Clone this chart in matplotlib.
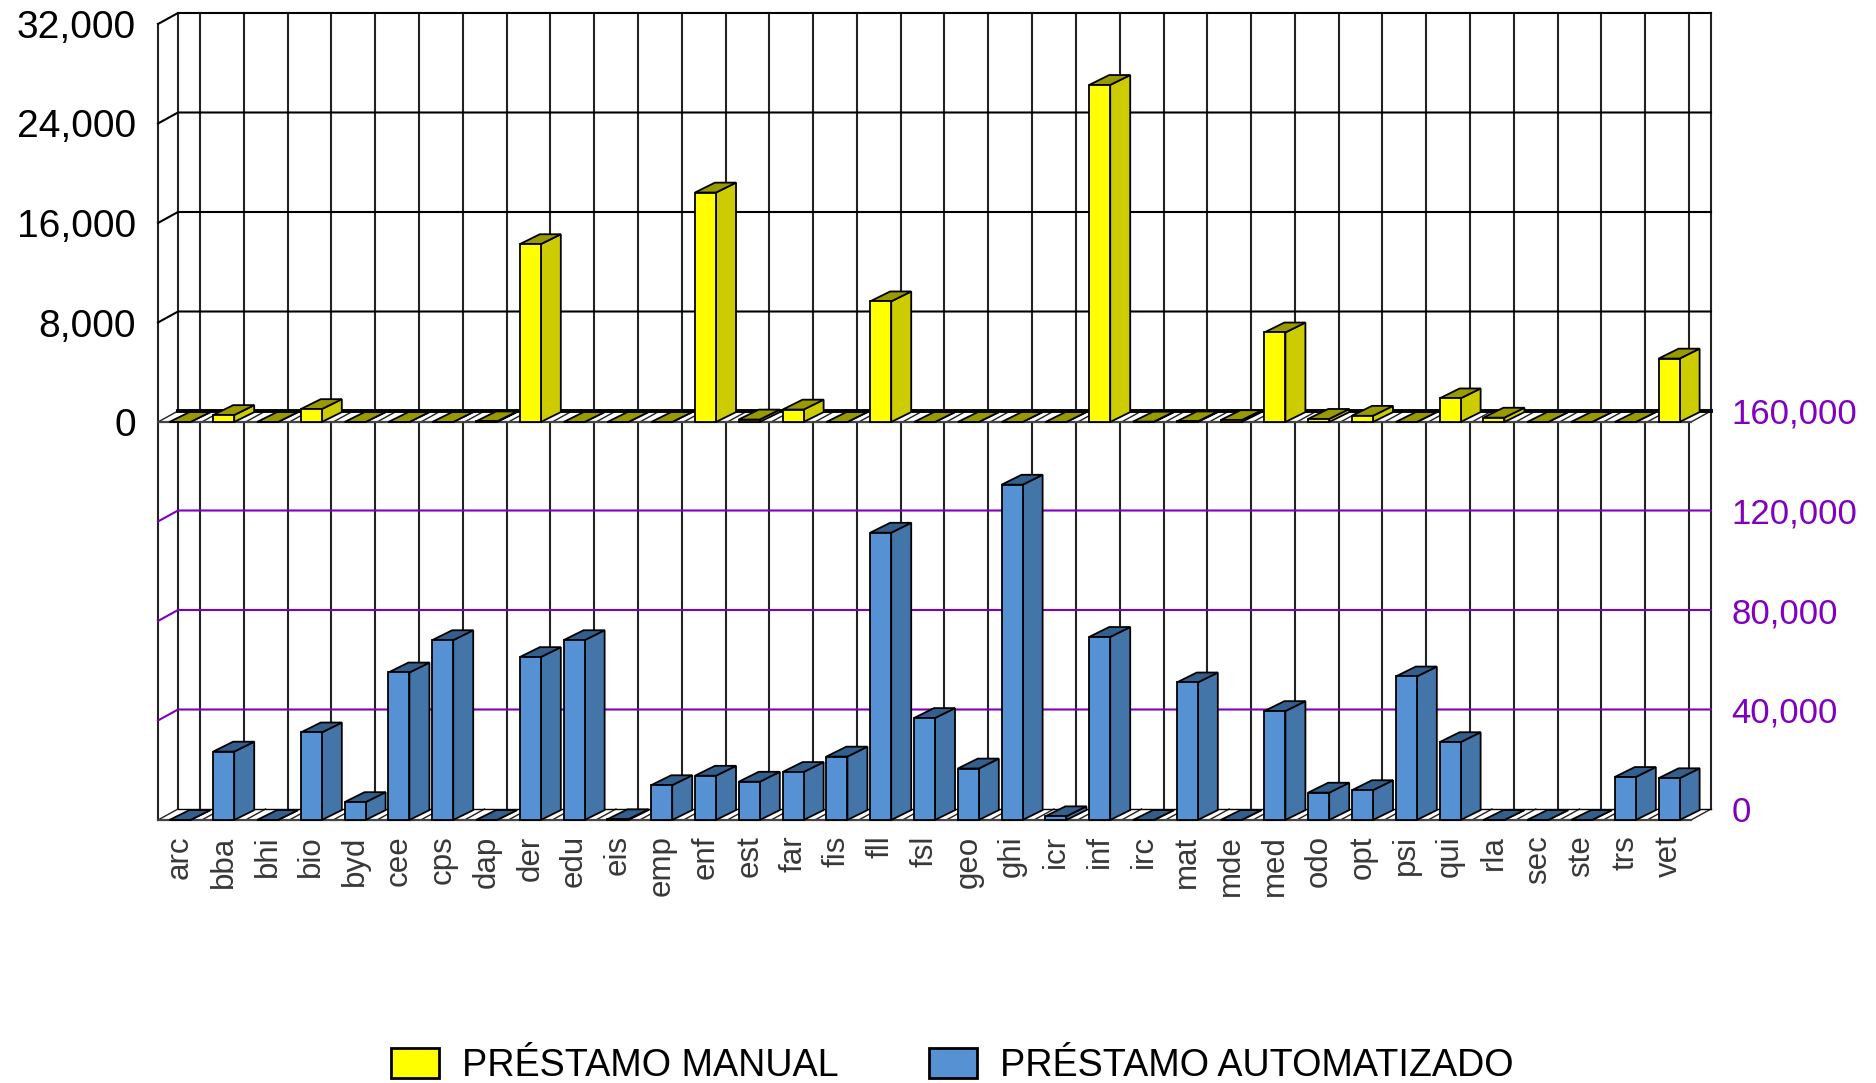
import matplotlib
matplotlib.use('Agg')
import matplotlib.pyplot as plt
from matplotlib.patches import Patch

plt.rcParams['font.family'] = ['Liberation Sans', 'DejaVu Sans']

# Data
categories = ['arc', 'bba', 'bhi', 'bio', 'byd', 'cee', 'cps', 'dap', 'der', 'edu', 'eis', 'emp',
              'enf', 'est', 'far', 'fis', 'fll', 'fsl', 'geo', 'ghi', 'icr', 'inf', 'irc', 'mat',
              'mde', 'med', 'odo', 'opt', 'psi', 'qui', 'rla', 'sec', 'ste', 'trs', 'vet']
manual = [0, 560, 0, 1040, 0, 0, 0, 50, 14300, 0, 0, 0,
          18450, 200, 1000, 0, 9700, 0, 0, 0, 0, 27100, 30, 50,
          150, 7200, 250, 500, 0, 1900, 350, 0, 0, 0, 5100]
automatizado = [0, 27500, 0, 35200, 7200, 59300, 72300, 0, 65500, 72300, 300, 14000,
                17800, 15400, 19300, 25500, 115500, 41000, 20700, 134800, 1500, 73600, 0, 55300,
                0, 43800, 11000, 12000, 57700, 31300, 0, 0, 0, 17300, 16800]
left_ticks = [0, 8000, 16000, 24000, 32000]
right_ticks = [0, 40000, 80000, 120000, 160000]
legend_labels = ['PRÉSTAMO MANUAL', 'PRÉSTAMO AUTOMATIZADO']

# Constants (pixels)
W, H = 1876, 1083
LEFT, RIGHT, BOTTOM, TOP = 158, 1691, 820, 24
DEPTH_PX_X, DEPTH_PX_Y = 20, 11
BAR_WIDTH = 0.48
PURPLE = '#8000c0'
YELLOW = ('#ffff00', '#cccc00', '#999900')
BLUE = ('#5591d3', '#4475a9', '#335f8c')

fig = plt.figure(figsize=(W / 100, H / 100), dpi=100, facecolor='white')
ax = fig.add_axes([LEFT / W, 1 - BOTTOM / H, (RIGHT - LEFT) / W, (BOTTOM - TOP) / H])
ax2 = ax.twinx()
n = len(categories)
ax.set_xlim(0, n)
ax.set_ylim(-32000, 32000)
ax2.set_ylim(0, 320000)

px_per_cat = (RIGHT - LEFT) / n
dx = DEPTH_PX_X / px_per_cat
dy1 = DEPTH_PX_Y * 64000 / (BOTTOM - TOP)
dy2 = DEPTH_PX_Y * 320000 / (BOTTOM - TOP)


# Wall: gridlines and the little depth ticks towards the front axis
def draw_grid(axis, ticks, depth, color):
    for t in ticks:
        axis.plot([0, dx, n + dx], [t, t + depth, t + depth], color=color, lw=1.5,
                  clip_on=False, zorder=1, solid_joinstyle='miter')


# Floor of a panel
def draw_floor(axis, depth, back_lw):
    axis.fill([0, n, n + dx, dx], [0, 0, depth, depth], facecolor='white', edgecolor='none',
              clip_on=False, zorder=1.5)
    for i in range(n + 1):
        axis.plot([i, i + dx], [0, depth], color='#222222', lw=1.0, clip_on=False, zorder=1.6)
    axis.plot([dx, n + dx], [depth, depth], color='black', lw=back_lw, clip_on=False, zorder=1.7)
    axis.plot([0, n], [0, 0], color='#444444', lw=1.6, clip_on=False, zorder=1.7)


def draw_bars(axis, values, depth, colors):
    front, side, top = colors
    # the top and side faces rise a little less than the floor depth
    rise = depth * 0.9
    for i, v in enumerate(values):
        x0 = i + 0.5 - BAR_WIDTH / 2
        x1 = x0 + BAR_WIDTH
        axis.fill([x1, x1 + dx, x1 + dx, x1], [0, rise, v + rise, v], facecolor=side,
                  edgecolor='black', lw=1.3, clip_on=False, zorder=3)
        axis.fill([x0, x1, x1 + dx, x0 + dx], [v, v, v + rise, v + rise], facecolor=top,
                  edgecolor='black', lw=1.3, clip_on=False, zorder=3)
        axis.bar(i + 0.5, v, width=BAR_WIDTH, color=front, edgecolor='black', lw=1.3,
                 clip_on=False, zorder=3)


# Vertical lines of the back wall, they run through both panels
for i in range(n):
    ax.plot([i + 0.5 + dx] * 2, [-32000 + dy1, 32000 + dy1], color='#222222', lw=1.5,
            clip_on=False, zorder=1)
for x_edge in [dx, n + dx]:
    ax.plot([x_edge] * 2, [-32000 + dy1, 32000 + dy1], color='#222222', lw=1.5,
            clip_on=False, zorder=1)
ax.plot([0, 0], [-32000, 32000], color='#222222', lw=1.5, clip_on=False, zorder=1)

draw_grid(ax, left_ticks[1:], dy1, 'black')
draw_grid(ax2, right_ticks[1:-1], dy2, PURPLE)

draw_floor(ax, dy1, 2.8)
draw_floor(ax2, dy2, 1.0)
draw_bars(ax, manual, dy1, YELLOW)
draw_bars(ax2, automatizado, dy2, BLUE)

# Axes, ticks and labels
for spine in list(ax.spines.values()) + list(ax2.spines.values()):
    spine.set_visible(False)

ax.set_xticks([i + 0.5 for i in range(n)])
ax.set_xticklabels(categories, rotation=90, fontsize=22.5, color='#383838')
ax.tick_params(axis='x', length=0, pad=11)
ax.set_yticks(left_ticks)
ax.set_yticklabels([f'{t:,}' for t in left_ticks], fontsize=28, color='black')
ax.tick_params(axis='y', length=0, pad=16)

# right labels sit at the level of the back wall
ax2.set_yticks([t + dy2 for t in right_ticks])
ax2.set_yticklabels([f'{t:,}' for t in right_ticks], fontsize=25, color=PURPLE)
ax2.tick_params(axis='y', length=0, pad=29)

handles = [Patch(facecolor=YELLOW[0], edgecolor='black', lw=2.0),
           Patch(facecolor=BLUE[0], edgecolor='black', lw=2.0)]
fig.legend(handles, legend_labels, loc='center left', bbox_to_anchor=(391 / W, 1 - 1066 / H),
           ncol=2, frameon=False, fontsize=27.2, handlelength=1.26, handleheight=0.85,
           handletextpad=0.62, columnspacing=2.4, borderpad=0, borderaxespad=0)

fig.savefig('out.png', dpi=100, facecolor='white')
